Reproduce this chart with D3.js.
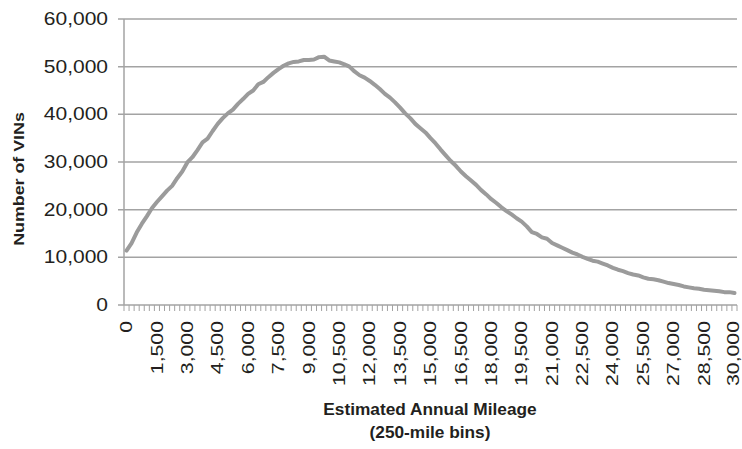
<!DOCTYPE html>
<html>
<head>
<meta charset="utf-8">
<script src="https://cdn.jsdelivr.net/npm/d3@7"></script>
<style>
  html, body { margin: 0; padding: 0; background: #fff; }
  svg { display: block; }
  text { font-family: "Liberation Sans", Arial, Helvetica, sans-serif; fill: #231f20; }
</style>
</head>
<body>
<svg id="chart" width="742" height="449"></svg>
<script>
// ---- Data ----
const binStart = 0, binEnd = 30000, binWidth = 250;
const categories = d3.range(binStart, binEnd + 1, binWidth); // 121 bins
const vinCounts = [
  11400, 13000, 15200, 17000, 18600, 20300, 21600, 22800, 24000, 25000,
  26600, 28000, 29900, 31000, 32500, 34100, 34900, 36500, 38000, 39200,
  40200, 41000, 42200, 43200, 44300, 45000, 46300, 46800, 47800, 48700,
  49500, 50200, 50700, 51000, 51100, 51400, 51400, 51500, 52000, 52100,
  51300, 51100, 50900, 50500, 50000, 49000, 48200, 47700, 47000, 46200,
  45300, 44300, 43500, 42500, 41400, 40200, 39200, 38000, 37100, 36200,
  35000, 33900, 32600, 31400, 30200, 29200, 28000, 27000, 26100, 25200,
  24100, 23200, 22200, 21400, 20500, 19700, 19000, 18200, 17500, 16500,
  15300, 14900, 14200, 13900, 13000, 12500, 12000, 11500, 11000, 10600,
  10100, 9700, 9300, 9100, 8700, 8300, 7800, 7400, 7100, 6700,
  6400, 6200, 5800, 5500, 5400, 5200, 4900, 4600, 4400, 4200,
  3900, 3700, 3500, 3400, 3200, 3100, 3000, 2900, 2700, 2700,
  2500
];
const yTickValues = [0, 10000, 20000, 30000, 40000, 50000, 60000];
const xLabelValues = [0, 1500, 3000, 4500, 6000, 7500, 9000, 10500, 12000, 13500,
  15000, 16500, 18000, 19500, 21000, 22500, 24000, 25500, 27000, 28500, 30000];
const yTitle = "Number of VINs";
const xTitle1 = "Estimated Annual Mileage";
const xTitle2 = "(250-mile bins)";

// ---- Layout ----
const svg = d3.select("#chart");
const plot = { left: 124, right: 737, top: 19, bottom: 305 };
const gridColor = "#a3a3a3";
const lineColor = "#9b9b9b";

const x = d3.scaleLinear()
  .domain([binStart - binWidth / 2, binEnd + binWidth / 2])
  .range([plot.left, plot.right]);
const y = d3.scaleLinear().domain([0, 60000]).range([plot.bottom, plot.top]);
const fmt = d3.format(",");

// gridlines + y ticks
const gy = svg.append("g");
gy.selectAll("line.grid").data(yTickValues.filter(v => v > 0)).join("line")
  .attr("x1", plot.left - 6).attr("x2", plot.right)
  .attr("y1", d => y(d)).attr("y2", d => y(d))
  .attr("stroke", gridColor).attr("stroke-width", 1.5);
gy.append("line")
  .attr("x1", plot.left - 6).attr("x2", plot.left)
  .attr("y1", y(0)).attr("y2", y(0))
  .attr("stroke", gridColor).attr("stroke-width", 1.5);

// y tick labels
gy.selectAll("text").data(yTickValues).join("text")
  .attr("transform", d => `translate(108,${y(d)}) scale(1.2,1)`)
  .attr("text-anchor", "end")
  .attr("dy", "0.35em")
  .style("font-size", "17.5px")
  .text(d => fmt(d));

// axes lines
svg.append("line")
  .attr("x1", plot.left).attr("x2", plot.left)
  .attr("y1", plot.top).attr("y2", plot.bottom)
  .attr("stroke", gridColor).attr("stroke-width", 1.5);
svg.append("line")
  .attr("x1", plot.left).attr("x2", plot.right)
  .attr("y1", plot.bottom).attr("y2", plot.bottom)
  .attr("stroke", gridColor).attr("stroke-width", 1.5);

// x minor ticks at bin boundaries
const boundaries = categories.map(c => c - binWidth / 2).concat([binEnd + binWidth / 2]);
svg.append("g").selectAll("line").data(boundaries).join("line")
  .attr("x1", d => x(d)).attr("x2", d => x(d))
  .attr("y1", plot.bottom).attr("y2", plot.bottom + 6)
  .attr("stroke", gridColor).attr("stroke-width", 1);

// x labels rotated
svg.append("g").selectAll("text").data(xLabelValues).join("text")
  .attr("transform", d => `translate(${Math.min(x(d), 733)},321) rotate(-90) scale(1.25,1)`)
  .attr("text-anchor", "end")
  .attr("dy", "0.33em")
  .style("font-size", "17px")
  .text(d => fmt(d));

// line
const line = d3.line()
  .x((d, i) => x(categories[i]))
  .y(d => y(d));
svg.append("path")
  .datum(vinCounts)
  .attr("d", line)
  .attr("fill", "none")
  .attr("stroke", lineColor)
  .attr("stroke-width", 4)
  .attr("stroke-linejoin", "round")
  .attr("stroke-linecap", "round");

// titles
svg.append("text")
  .attr("transform", `translate(24,${(plot.top + plot.bottom) / 2 + 17}) rotate(-90) scale(1.15,1)`)
  .attr("text-anchor", "middle")
  .style("font-size", "15.5px").style("font-weight", "bold")
  .text(yTitle);
svg.append("text")
  .attr("transform", `translate(430,415) scale(1.08,1)`)
  .attr("text-anchor", "middle")
  .style("font-size", "16px").style("font-weight", "bold")
  .text(xTitle1);
svg.append("text")
  .attr("transform", `translate(430,438) scale(1.08,1)`)
  .attr("text-anchor", "middle")
  .style("font-size", "16px").style("font-weight", "bold")
  .text(xTitle2);
</script>
</body>
</html>
